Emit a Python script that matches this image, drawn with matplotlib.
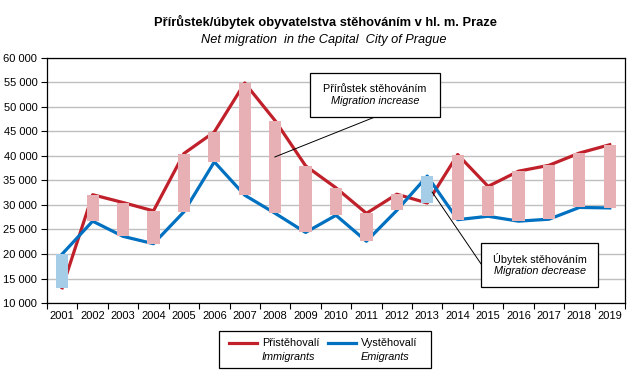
import numpy as np
import matplotlib.pyplot as plt
from matplotlib.lines import Line2D
from matplotlib.patches import Rectangle

plt.rcParams['font.family'] = ['Liberation Sans', 'DejaVu Sans']

years = [str(y) for y in range(2001, 2020)]
immigrants = [13100, 32100, 30500, 28800, 40500, 44900, 54900, 47200, 38000, 33500,
              28300, 32200, 30400, 40300, 33800, 36900, 38100, 40600, 42300]
emigrants = [20000, 26700, 23600, 22100, 28600, 38800, 32000, 28300, 24400, 27900,
             22600, 28900, 35900, 27000, 27700, 26700, 27100, 29500, 29400]

red = '#C0202A'
blue = '#0070C0'
pink = '#E6B0B4'
lightblue = '#A6CDE8'

x = np.arange(len(years))
imm = np.array(immigrants)
emi = np.array(emigrants)

fig = plt.figure(figsize=(6.43, 3.78), dpi=100)
ax = fig.add_axes([0.0731, 0.1984, 0.8989, 0.6482])

ax.plot(x, imm, color=red, lw=2.3, zorder=3)
ax.plot(x, emi, color=blue, lw=2.3, zorder=3)

low = np.minimum(imm, emi)
high = np.maximum(imm, emi)
cols = [pink if i > e else lightblue for i, e in zip(imm, emi)]
ax.bar(x, high - low, bottom=low, width=0.4, color=cols, zorder=4)

ax.set_xlim(-0.5, len(years) - 0.5)
ax.set_ylim(10000, 60000)
yt = np.arange(10000, 60001, 5000)
ax.set_yticks(yt)
ax.set_yticklabels([f'{v:,}'.replace(',', ' ') for v in yt], fontsize=8)
ax.set_xticks(x)
ax.set_xticklabels(years, fontsize=8)
ax.set_xticks(np.arange(-0.5, len(years)), minor=True)
ax.tick_params(axis='x', which='major', length=0, pad=6)
ax.tick_params(axis='x', which='minor', length=4, width=0.8, direction='out')
ax.tick_params(axis='y', length=4, width=0.8, direction='out', pad=3)
ax.grid(axis='y', color='#BFBFBF', lw=1, zorder=0)
ax.set_axisbelow(True)
for s in ax.spines.values():
    s.set_linewidth(0.9)

fig.text(0.506, 0.942, 'Přírůstek/úbytek obyvatelstva stěhováním v hl. m. Praze',
         ha='center', va='center', fontsize=9.3, fontweight='bold')
fig.text(0.504, 0.894, 'Net migration  in the Capital  City of Prague',
         ha='center', va='center', fontsize=9.2, style='italic')


def note_box(x0, x1, y0, y1, top, bottom, line_from, line_to):
    ax.plot([line_from[0], line_to[0]], [line_from[1], line_to[1]],
            color='black', lw=0.7, zorder=6)
    ax.add_patch(Rectangle((x0, y0), x1 - x0, y1 - y0, fc='white', ec='black',
                           lw=0.9, zorder=7))
    xc = (x0 + x1) / 2
    ym = (y0 + y1) / 2
    ax.text(xc, ym + 1250, top, ha='center', va='center', fontsize=7.8, zorder=8)
    ax.text(xc, ym - 1250, bottom, ha='center', va='center', fontsize=7.8,
            style='italic', zorder=8)


note_box(8.15, 12.42, 47960, 56940, 'Přírůstek stěhováním', 'Migration increase',
         (10.28, 47960), (6.99, 39800))
note_box(13.77, 17.61, 13270, 22240, 'Úbytek stěhováním', 'Migration decrease',
         (13.77, 17960), (12.16, 32650))

# legend drawn by hand
fig.add_artist(Rectangle((219 / 643, 1 - 368 / 378), 212 / 643, 37 / 378,
                         transform=fig.transFigure, fc='white', ec='black', lw=0.9))
fig.add_artist(Line2D([229 / 643, 257 / 643], [1 - 343 / 378] * 2, color=red, lw=2.3))
fig.add_artist(Line2D([328 / 643, 356 / 643], [1 - 343 / 378] * 2, color=blue, lw=2.3))
fig.text(262 / 643, 1 - 343 / 378, 'Přistěhovalí', ha='left', va='center', fontsize=7.8)
fig.text(262 / 643, 1 - 357 / 378, 'Immigrants', ha='left', va='center', fontsize=7.8,
         style='italic')
fig.text(361 / 643, 1 - 343 / 378, 'Vystěhovalí', ha='left', va='center', fontsize=7.8)
fig.text(361 / 643, 1 - 357 / 378, 'Emigrants', ha='left', va='center', fontsize=7.8,
         style='italic')

fig.savefig('out.png', dpi=100)
